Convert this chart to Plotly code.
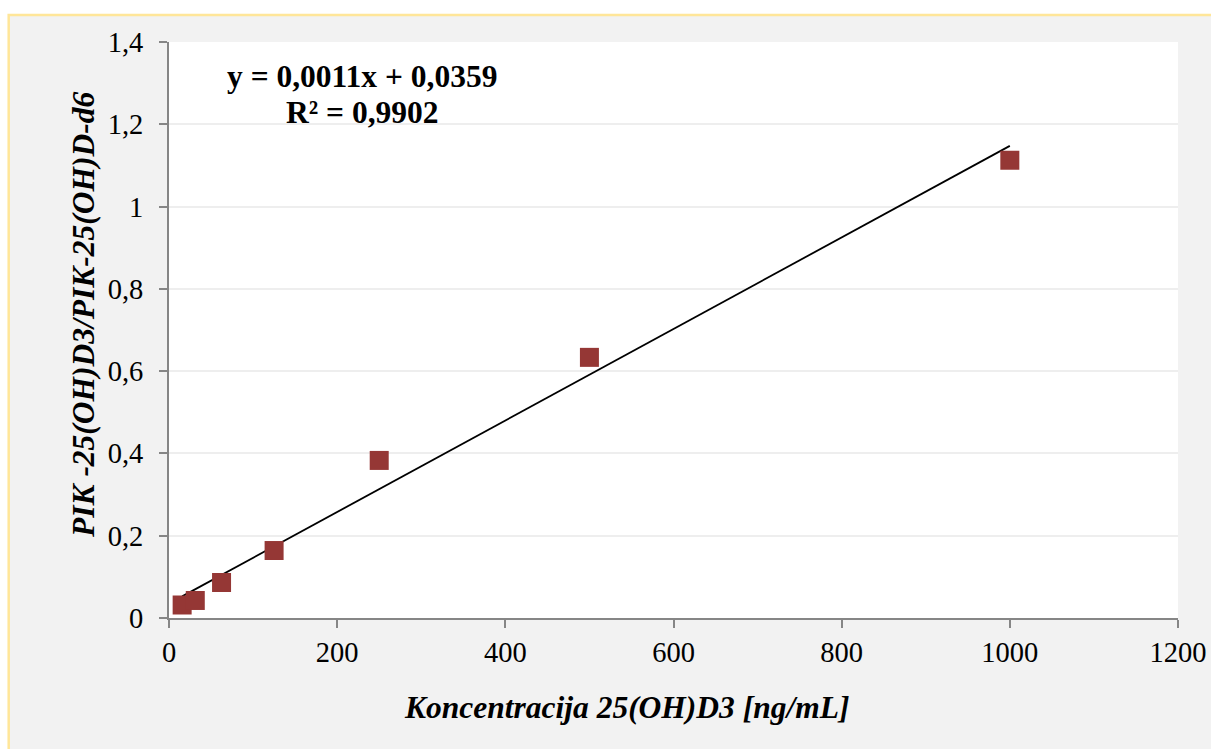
import numpy as np
import plotly.graph_objects as go

# Data
concentration = [15.625, 31.25, 62.5, 125, 250, 500, 1000]
peak_ratio = [0.0316, 0.0426, 0.0863, 0.164, 0.383, 0.6335, 1.1126]

x_tickvals = [0, 200, 400, 600, 800, 1000, 1200]
x_ticktext = ["0", "200", "400", "600", "800", "1000", "1200"]
y_tickvals = [0, 0.2, 0.4, 0.6, 0.8, 1.0, 1.2, 1.4]
y_ticktext = ["0", "0,2", "0,4", "0,6", "0,8", "1", "1,2", "1,4"]

eq_text = "y = 0,0011x + 0,0359"
r2_text = "R² = 0,9902"
x_title = "Koncentracija 25(OH)D3 [ng/mL]"
y_title = "PIK -25(OH)D3/PIK-25(OH)D-d6"

W, H = 1211, 749
L, R, T, B = 169, 1178, 42, 618  # plot area pixels


def px(p):
    return (p - L) / (R - L)


def py(p):
    return (B - p) / (B - T)


slope, intercept = np.polyfit(concentration, peak_ratio, 1)
trend_x = [min(concentration), max(concentration)]
trend_y = [slope * v + intercept for v in trend_x]

fig = go.Figure()
fig.add_trace(go.Scatter(x=trend_x, y=trend_y, mode="lines",
                         line=dict(color="black", width=1.8), hoverinfo="skip"))
fig.add_trace(go.Scatter(x=concentration, y=peak_ratio, mode="markers",
                         marker=dict(symbol="square", size=19, color="#953735",
                                     line=dict(width=0))))

serif = "Liberation Serif, Times New Roman, serif"

fig.update_layout(
    width=W, height=H, autosize=False,
    margin=dict(l=L, r=W - R, t=T, b=H - B, pad=0, autoexpand=False),
    paper_bgcolor="white",
    plot_bgcolor="white",
    showlegend=False,
    font=dict(family=serif, color="black", size=28),
    xaxis=dict(range=[0, 1200], tickvals=x_tickvals, ticktext=x_ticktext,
               showgrid=False, zeroline=False, showline=True, automargin=False,
               linecolor="#868686", linewidth=2, ticks="outside", ticklen=8,
               tickcolor="#868686", tickwidth=2,
               tickfont=dict(family=serif, size=28.5, color="black")),
    yaxis=dict(range=[0, 1.4], tickvals=y_tickvals, ticktext=y_ticktext,
               showgrid=True, gridcolor="#eeeeee", gridwidth=2, automargin=False,
               zeroline=False, showline=True,
               linecolor="#868686", linewidth=2, ticks="outside", ticklen=8,
               tickcolor="#868686", tickwidth=2, ticklabelstandoff=10,
               tickfont=dict(family=serif, size=28.5, color="black")),
    shapes=[
        dict(type="rect", xref="paper", yref="paper", layer="below",
             x0=px(8.7), x1=px(1260), y0=py(800), y1=py(15),
             fillcolor="#f2f2f2", line=dict(color="#ffe699", width=2.5)),
        dict(type="rect", xref="paper", yref="paper", layer="below",
             x0=0, x1=1, y0=0, y1=1, fillcolor="white", line=dict(width=0)),
    ],
    annotations=[
        dict(text="<b>" + eq_text + "</b>", xref="paper", yref="paper",
             x=px(362), y=py(77), xanchor="center", yanchor="middle",
             showarrow=False, font=dict(family=serif, size=31.5, color="black")),
        dict(text="<b>" + r2_text + "</b>", xref="paper", yref="paper",
             x=px(362.5), y=py(112), xanchor="center", yanchor="middle",
             showarrow=False, font=dict(family=serif, size=31.5, color="black")),
        dict(text="<b><i>" + x_title + "</i></b>", xref="paper", yref="paper",
             x=px(626.5), y=py(707), xanchor="center", yanchor="middle",
             showarrow=False, font=dict(family=serif, size=31.5, color="black")),
        dict(text="<b><i>" + y_title + "</i></b>", xref="paper", yref="paper",
             x=px(83), y=py(315), xanchor="center", yanchor="middle",
             textangle=-90,
             showarrow=False, font=dict(family=serif, size=31.5, color="black")),
    ],
)

fig.write_html("out.html")
